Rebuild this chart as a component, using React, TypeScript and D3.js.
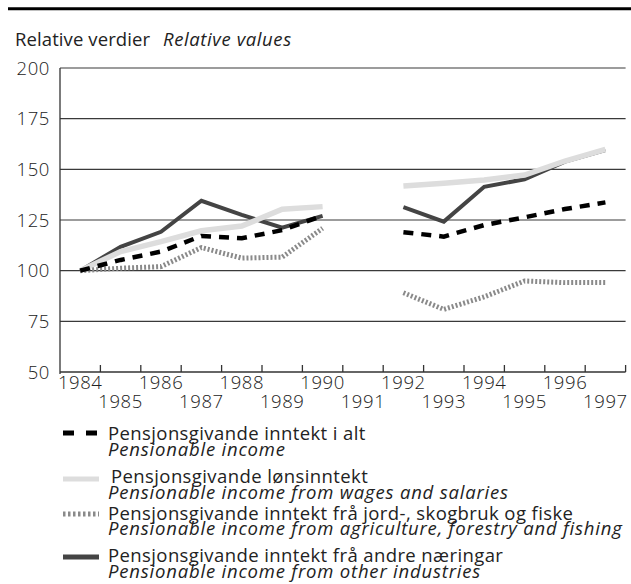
import React from "react";
import * as d3 from "d3";

const years = [1984, 1985, 1986, 1987, 1988, 1989, 1990, 1991, 1992, 1993, 1994, 1995, 1996, 1997];
const yTicks = [50, 75, 100, 125, 150, 175, 200];

const totalIncome = [100, 105.3, 109.4, 117.1, 116, 120, 127.1, null, 119, 116.8, 122.5, 126.3, 130.4, 133.7];
const wagesIncome = [100, 109.4, 114.3, 119.7, 122, 130.3, 131.6, null, 141.8, 143.1, 144.7, 147.2, 154.1, 159.9];
const agriIncome = [100, 101.2, 102, 111.4, 106.2, 106.7, 120.9, null, 89.1, 80.9, 87.1, 94.9, 94.1, 94.1];
const otherIncome = [100, 111.8, 119.2, 134.5, 127.5, 121.2, 127, null, 131.3, 124.2, 141.4, 145.1, 153.8, 159.5];

const titleNo = "Relative verdier";
const titleEn = "Relative values";

const legendNo = [
  "Pensjonsgivande inntekt i alt",
  "Pensjonsgivande lønsinntekt",
  "Pensjonsgivande inntekt frå jord-, skogbruk og fiske",
  "Pensjonsgivande inntekt frå andre næringar",
];
const legendEn = [
  "Pensionable income",
  "Pensionable income from wages and salaries",
  "Pensionable income from agriculture, forestry and fishing",
  "Pensionable income from other industries",
];

const FONT = "'Open Sans', 'Noto Sans', sans-serif";
const TXT = "#222222";
const FS = 18.5;
const LS_UP = 0.4;
const LS_IT = 0.8;

type S = { key: string; data: (number | null)[]; stroke: string; width: number; dash?: string; lw: number; ldash?: string };

const series: S[] = [
  { key: "other", data: otherIncome, stroke: "#444444", width: 4, lw: 5 },
  { key: "wages", data: wagesIncome, stroke: "#dddddd", width: 5.5, lw: 5 },
  { key: "agri", data: agriIncome, stroke: "#8a8a8a", width: 5, dash: "2,2", lw: 5, ldash: "2.5,2.5" },
  { key: "total", data: totalIncome, stroke: "#000000", width: 4.5, dash: "10,8", lw: 5, ldash: "11,12" },
];

// legend order: total, wages, agri, other
const legendStyles = [series[3], series[1], series[2], series[0]];
const legendRows = [
  { sym: 433, b1: 440, b2: 456, x1: 108 },
  { sym: 479, b1: 483, b2: 499, x1: 111 },
  { sym: 514, b1: 520, b2: 535, x1: 108 },
  { sym: 557, b1: 562, b2: 578, x1: 108 },
];

export default function App() {
  const left = 60;
  const right = 625.6;
  const top = 68;
  const bottom = 372;

  const x = d3.scaleBand<string>().domain(years.map(String)).range([left, right]).padding(0);
  const y = d3.scaleLinear().domain([50, 200]).range([bottom, top]);
  const bw = x.bandwidth();

  const line = d3
    .line<number | null>()
    .defined((d) => d != null)
    .x((_, i) => (x(String(years[i])) as number) + bw / 2)
    .y((d) => y(d as number));

  return (
    <div style={{ position: "absolute", left: 0, top: 0 }}>
      <svg width={631} height={584} style={{ display: "block", fontFamily: FONT }}>
        <rect x={0} y={0} width={631} height={584} fill="#ffffff" />
        <line x1={8} x2={631} y1={8.8} y2={8.8} stroke="#000" strokeWidth={3} />

        <text x={15} y={45.5} fontSize={FS} fill={TXT} letterSpacing={0.1}>
          {titleNo}
        </text>
        <text x={163} y={45.5} fontSize={FS} fill={TXT} fontStyle="italic" letterSpacing={0.6}>
          {titleEn}
        </text>

        {yTicks.map((t) => (
          <g key={t}>
            {t > 50 && (
              <line x1={left} x2={right} y1={y(t)} y2={y(t)} stroke="#3a3a3a" strokeWidth={1.2} />
            )}
            <text x={50} y={y(t) + 6.5} fontSize={18.5} textAnchor="end" fill={TXT} fontWeight={300} letterSpacing={0.6}>
              {t}
            </text>
          </g>
        ))}

        <line x1={left} x2={left} y1={top} y2={bottom + 2} stroke="#333" strokeWidth={1.3} />
        <line x1={left} x2={right} y1={bottom} y2={bottom} stroke="#333" strokeWidth={1.3} />
        {years.map((yr) => {
          const xe = (x(String(yr)) as number) + bw;
          return <line key={"t" + yr} x1={xe} x2={xe} y1={bottom - 7} y2={bottom} stroke="#333" strokeWidth={1.3} />;
        })}
        {years.map((yr, i) => (
          <text
            key={"l" + yr}
            x={(x(String(yr)) as number) + bw / 2}
            y={i % 2 === 0 ? 389 : 408}
            fontSize={18.5}
            textAnchor="middle"
            fill={TXT}
            fontWeight={300}
            letterSpacing={0.6}
          >
            {yr}
          </text>
        ))}

        {series.map((s) => (
          <path
            key={s.key}
            d={line(s.data) || ""}
            fill="none"
            stroke={s.stroke}
            strokeWidth={s.width}
            strokeDasharray={s.dash}
            strokeLinejoin="miter"
          />
        ))}

        {legendRows.map((r, i) => {
          const s = legendStyles[i];
          return (
            <g key={"lg" + i}>
              <line x1={63} x2={99} y1={r.sym} y2={r.sym} stroke={s.stroke} strokeWidth={s.lw} strokeDasharray={s.ldash} />
              <text x={r.x1} y={r.b1} fontSize={FS} fill={TXT} letterSpacing={LS_UP}>
                {legendNo[i]}
              </text>
              <text x={108} y={r.b2} fontSize={FS} fill={TXT} fontStyle="italic" letterSpacing={LS_IT}>
                {legendEn[i]}
              </text>
            </g>
          );
        })}
      </svg>
    </div>
  );
}
